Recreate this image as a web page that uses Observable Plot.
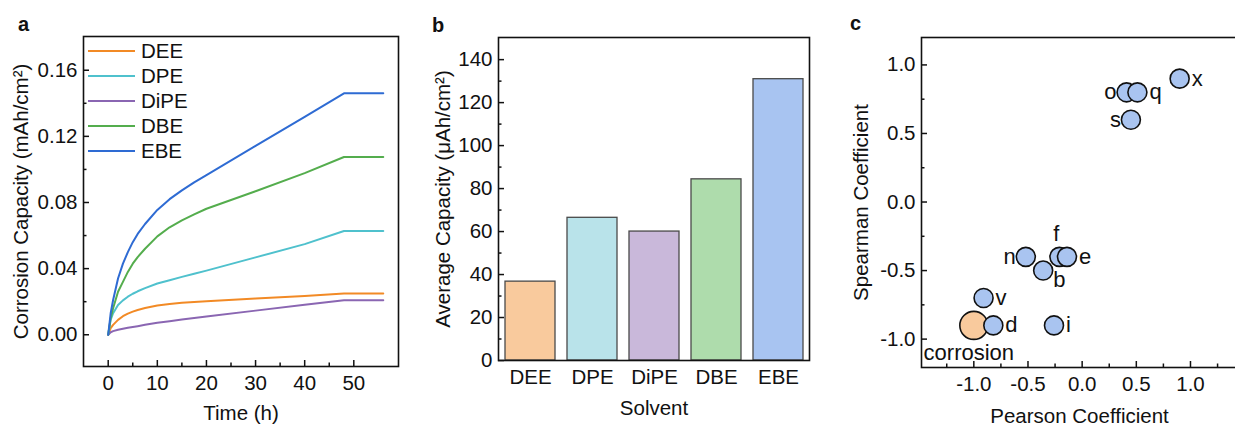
<!DOCTYPE html>
<html><head><meta charset="utf-8">
<script src="https://cdn.jsdelivr.net/npm/d3@7"></script>
<script src="https://cdn.jsdelivr.net/npm/@observablehq/plot@0.6"></script>
<style>
html,body{margin:0;padding:0;background:#fff;}
#root{position:relative;width:1235px;height:425px;overflow:hidden;font-family:"Liberation Sans",Arial,sans-serif;color:#111;}
.panel{position:absolute;top:0;overflow:hidden;height:425px;}
.panel svg{max-width:none !important;}
.plabel{position:absolute;font-weight:bold;font-size:20px;line-height:1;}
.legend{position:absolute;left:88px;top:38px;font-size:20.5px;}
.legend .row{position:absolute;left:0;height:25px;white-space:nowrap;display:flex;align-items:center;}
.legend svg{display:block;margin-right:6px;}
</style>
</head><body>
<div id="root">
  <div class="panel" id="pa" style="left:0;width:410px;"></div>
  <div class="panel" id="pb" style="left:410px;width:420px;"></div>
  <div class="panel" id="pc" style="left:830px;width:405px;"></div>
  <div class="plabel" style="left:18px;top:14px;">a</div>
  <div class="plabel" style="left:432px;top:15px;">b</div>
  <div class="plabel" style="left:850px;top:13px;">c</div>
  <div class="legend" id="legend"></div>
</div>
<script>
// ---------- Panel a data ----------
const times = [0, 0.5, 1, 2, 3, 4, 5, 6, 7.5, 10, 12.5, 15, 17.5, 20, 30, 40, 48, 56];
const seriesNames = ["DEE", "DPE", "DiPE", "DBE", "EBE"];
const dee  = [0, 0.004, 0.006, 0.009, 0.0112, 0.0128, 0.014, 0.015, 0.0162, 0.0177, 0.0186, 0.0193, 0.0198, 0.0203, 0.0219, 0.0235, 0.0250, 0.0250];
const dpe  = [0, 0.009, 0.013, 0.018, 0.0208, 0.023, 0.0248, 0.0263, 0.0282, 0.031, 0.033, 0.035, 0.0369, 0.0388, 0.0468, 0.0548, 0.0628, 0.0628];
const dipe = [0, 0.0015, 0.0022, 0.003, 0.0036, 0.0042, 0.0047, 0.0052, 0.006, 0.0072, 0.0082, 0.0092, 0.0101, 0.011, 0.0146, 0.0182, 0.0208, 0.0208];
const dbe  = [0, 0.010, 0.016, 0.026, 0.032, 0.038, 0.043, 0.047, 0.052, 0.0595, 0.065, 0.0692, 0.0728, 0.0762, 0.0868, 0.0978, 0.1075, 0.1075];
const ebe  = [0, 0.013, 0.021, 0.034, 0.043, 0.050, 0.056, 0.061, 0.067, 0.0755, 0.082, 0.0873, 0.0922, 0.0965, 0.1142, 0.1318, 0.146, 0.146];
const lineColors = ["#f28a25", "#4fc1cd", "#8a66b2", "#54ad4d", "#2e6bd3"];
const aXTicks = [0, 10, 20, 30, 40, 50];
const aXMinor = [5, 15, 25, 35, 45];
const aYTicks = [0, 0.04, 0.08, 0.12, 0.16];
const aYMinor = [0.02, 0.06, 0.10, 0.14];

// ---------- Panel b data ----------
const solvents = ["DEE", "DPE", "DiPE", "DBE", "EBE"];
const avgCapacity = [36.7, 66.4, 60.0, 84.3, 130.9];
const barColors = ["#f9ca9d", "#b9e3ea", "#c9b8da", "#aedcac", "#a8c4f1"];
const bYTicks = [0, 20, 40, 60, 80, 100, 120, 140];
const bYMinor = [10, 30, 50, 70, 90, 110, 130];

// ---------- Panel c data ----------
const pointNames = ["corrosion", "n", "b", "f", "e", "v", "d", "i", "o", "q", "s", "x"];
const pearson  = [-1.0, -0.52, -0.36, -0.21, -0.14, -0.91, -0.82, -0.26, 0.41, 0.51, 0.45, 0.90];
const spearman = [-0.9, -0.4, -0.5, -0.4, -0.4, -0.7, -0.9, -0.9, 0.8, 0.8, 0.6, 0.9];
const cTicks = [-1.0, -0.5, 0.0, 0.5, 1.0];
const cXMinor = [-1.25, -0.75, -0.25, 0.25, 0.75, 1.25];
const cYMinor = [-0.75, -0.25, 0.25, 0.75];

const FONT = '"Liberation Sans", Arial, sans-serif';
const baseStyle = {fontFamily: FONT, fontSize: "20.5px", color: "#111", background: "transparent", overflow: "visible", maxWidth: "none"};
const ink = "#111";
const TITLE = 20.5;

// inward tick marks as short rules inset from the frame edge (frameH/frameW in px)
function ticksX(ticks, len, frameH) { return Plot.ruleX(ticks, {x: d => d, insetTop: frameH - len, stroke: ink, strokeWidth: 1.5}); }
function ticksY(ticks, len, frameW) { return Plot.ruleY(ticks, {y: d => d, insetRight: frameW - len, stroke: ink, strokeWidth: 1.5}); }

// ----- Panel a -----
const lineData = [];
[dee, dpe, dipe, dbe, ebe].forEach((vals, s) => vals.forEach((v, i) => lineData.push({series: seriesNames[s], t: times[i], v})));

const A = {w: 410, h: 425, l: 83, r: 12, t: 36, b: 59};
const aFW = A.w - A.l - A.r, aFH = A.h - A.t - A.b;
const plotA = Plot.plot({
  width: A.w, height: A.h,
  marginLeft: A.l, marginRight: A.r, marginTop: A.t, marginBottom: A.b,
  style: baseStyle,
  x: {domain: [-5.03, 59.1]},
  y: {domain: [-0.0192, 0.1804]},
  color: {domain: seriesNames, range: lineColors},
  marks: [
    Plot.line(lineData, {x: "t", y: "v", z: "series", stroke: "series", strokeWidth: 2, curve: "linear"}),
    ticksX(aXTicks, 6, aFH), ticksX(aXMinor, 3.5, aFH),
    ticksY(aYTicks, 6, aFW), ticksY(aYMinor, 3.5, aFW),
    Plot.axisX(aXTicks, {anchor: "bottom", tickSize: 0, tickPadding: 9, tickFormat: d3.format("d"), label: null}),
    Plot.axisX({anchor: "bottom", ticks: [], label: "Time (h)", labelAnchor: "center", labelArrow: "none", labelOffset: 53, fontSize: TITLE}),
    Plot.axisY(aYTicks, {anchor: "left", tickSize: 0, tickPadding: 6, tickFormat: d3.format(".2f"), label: null}),
    Plot.axisY({anchor: "left", ticks: [], label: "Corrosion Capacity (mAh/cm²)", labelAnchor: "center", labelArrow: "none", labelOffset: 70, fontSize: TITLE}),
    Plot.frame({stroke: ink, strokeWidth: 1.6})
  ]
});
document.getElementById("pa").appendChild(plotA);

// legend
const leg = document.getElementById("legend");
seriesNames.forEach((name, i) => {
  const row = document.createElement("div");
  row.className = "row";
  row.style.top = (i * 25) + "px";
  row.innerHTML = `<svg width="47" height="4"><line x1="0" y1="2" x2="47" y2="2" stroke="${lineColors[i]}" stroke-width="2.2"/></svg><span>${name}</span>`;
  leg.appendChild(row);
});

// ----- Panel b -----
const barData = solvents.map((s, i) => ({solvent: s, value: avgCapacity[i]}));
const B = {w: 420, h: 425, l: 88, r: 21, t: 37, b: 65};
const bFW = B.w - B.l - B.r;
const plotB = Plot.plot({
  width: B.w, height: B.h,
  marginLeft: B.l, marginRight: B.r, marginTop: B.t, marginBottom: B.b,
  style: baseStyle,
  x: {domain: solvents, padding: 0.2, paddingOuter: 0.1},
  y: {domain: [0, 150.3]},
  color: {domain: solvents, range: barColors},
  marks: [
    Plot.barY(barData, {x: "solvent", y: "value", fill: "solvent", stroke: "#4a4a4a", strokeWidth: 1.3}),
    ticksY(bYTicks, 6, bFW), ticksY(bYMinor, 3.5, bFW),
    Plot.axisX({anchor: "bottom", tickSize: 0, tickPadding: 9, label: null}),
    Plot.axisX({anchor: "bottom", ticks: [], label: "Solvent", labelAnchor: "center", labelArrow: "none", labelOffset: 54, fontSize: TITLE}),
    Plot.axisY(bYTicks, {anchor: "left", tickSize: 0, tickPadding: 6, label: null}),
    Plot.axisY({anchor: "left", ticks: [], label: "Average Capacity (μAh/cm²)", labelAnchor: "center", labelArrow: "none", labelOffset: 63, fontSize: TITLE}),
    Plot.frame({stroke: ink, strokeWidth: 1.6})
  ]
});
document.getElementById("pb").appendChild(plotB);

// ----- Panel c -----
const pts = pointNames.map((n, i) => ({name: n, px: pearson[i], sp: spearman[i]}));
const target = pts.filter(d => d.name === "corrosion");
const others = pts.filter(d => d.name !== "corrosion");
const rightLabels = ["q", "x", "e", "v", "d", "i"];
const leftLabels = ["o", "s", "n"];
const fmt1 = d => d.toFixed(1);
const LBL = 22;
const C = {w: 412, h: 425, l: 91, r: 5, t: 37, b: 58};
const cFW = C.w - C.l - C.r, cFH = C.h - C.t - C.b;
const plotC = Plot.plot({
  width: C.w, height: C.h,
  marginLeft: C.l, marginRight: C.r, marginTop: C.t, marginBottom: C.b,
  style: baseStyle,
  x: {domain: [-1.483, 1.434]},
  y: {domain: [-1.207, 1.2]},
  marks: [
    Plot.dot(target, {x: "px", y: "sp", r: 14, fill: "#f9ca9d", stroke: ink, strokeWidth: 1.6}),
    Plot.dot(others, {x: "px", y: "sp", r: 9.5, fill: "#a9c4f0", stroke: ink, strokeWidth: 1.6}),
    Plot.text(others.filter(d => rightLabels.includes(d.name)), {x: "px", y: "sp", text: "name", textAnchor: "start", dx: 12, fill: ink, fontSize: LBL}),
    Plot.text(others.filter(d => leftLabels.includes(d.name)), {x: "px", y: "sp", text: "name", textAnchor: "end", dx: -10, fill: ink, fontSize: LBL}),
    Plot.text(others.filter(d => d.name === "f"), {x: "px", y: "sp", text: "name", dx: -3, dy: -23, fill: ink, fontSize: LBL}),
    Plot.text(others.filter(d => d.name === "b"), {x: "px", y: "sp", text: "name", textAnchor: "start", dx: 10, dy: 9, fill: ink, fontSize: LBL}),
    Plot.text(target, {x: "px", y: "sp", text: "name", dx: -5, dy: 28, fill: ink, fontSize: LBL}),
    ticksX(cTicks, 6, cFH), ticksX(cXMinor, 3.5, cFH),
    ticksY(cTicks, 6, cFW), ticksY(cYMinor, 3.5, cFW),
    Plot.axisX(cTicks, {anchor: "bottom", tickSize: 0, tickPadding: 9, tickFormat: fmt1, label: null}),
    Plot.axisX({anchor: "bottom", ticks: [], label: "Pearson Coefficient", labelAnchor: "center", labelArrow: "none", labelOffset: 55, fontSize: TITLE}),
    Plot.axisY(cTicks, {anchor: "left", tickSize: 0, tickPadding: 6, tickFormat: fmt1, label: null}),
    Plot.axisY({anchor: "left", ticks: [], label: "Spearman Coefficient", labelAnchor: "center", labelArrow: "none", labelOffset: 68, fontSize: TITLE}),
    Plot.frame({stroke: ink, strokeWidth: 1.6})
  ]
});
document.getElementById("pc").appendChild(plotC);
</script>
</body></html>
